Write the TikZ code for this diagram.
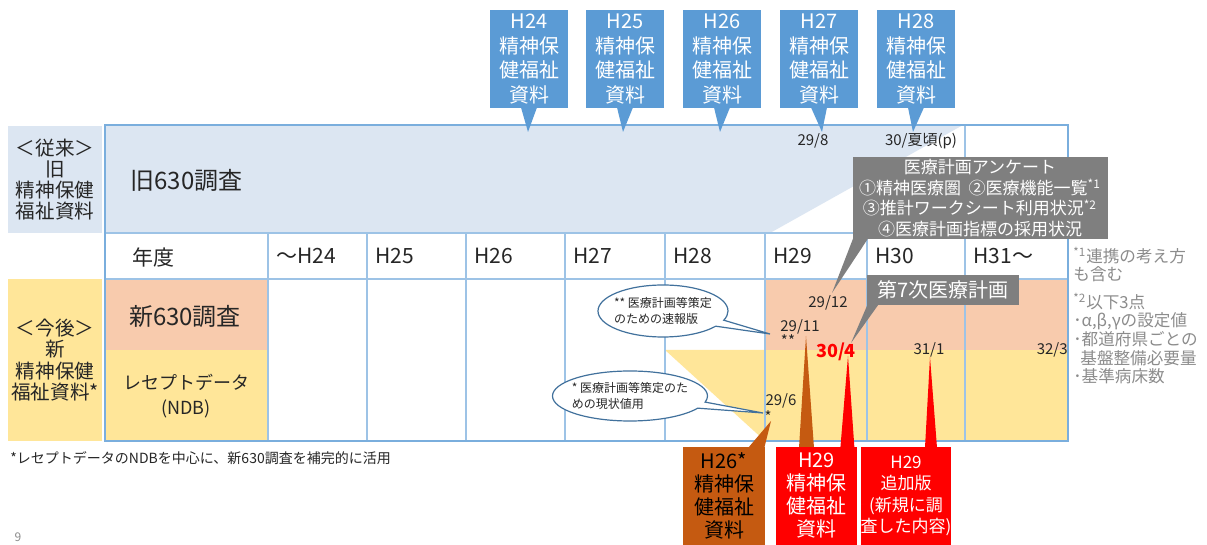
\documentclass[tikz,border=0pt]{standalone}
\usepackage{fontspec}
\setmainfont{Noto Sans CJK JP}
\usetikzlibrary{calc, shapes.callouts}

\newcommand{\fsz}[2]{\fontsize{#1}{#2}\selectfont}

\definecolor{oldblue}{HTML}{DCE6F2}
\definecolor{gridblue}{HTML}{9DC3E6}
\definecolor{frameblue}{HTML}{7AAEDD}
\definecolor{callblue}{HTML}{5B9BD5}
\definecolor{salmon}{HTML}{F8CBAD}
\definecolor{ndbyellow}{HTML}{FFE699}
\definecolor{callgray}{HTML}{7F7F7F}
\definecolor{notegray}{HTML}{8C8C8C}
\definecolor{brownc}{HTML}{C55A11}
\definecolor{textdark}{HTML}{262626}
\definecolor{bubbleline}{HTML}{41719C}

\begin{document}
\begin{tikzpicture}[x=0.5pt, y=-0.5pt,
    every node/.style={inner sep=0pt, text=textdark},
    gridline/.style={draw=gridblue, line width=0.6pt},
    frameline/.style={draw=frameblue, line width=0.8pt},
    sidelbl/.style={minimum width=47pt, align=center, font=\fsz{9.8}{10.6}},
    celltxt/.style={anchor=west, font=\fsz{10.5}{12}},
    datelbl/.style={font=\fsz{7.5}{8}},
    bluecall/.style={fill=callblue, text=white, minimum width=39pt, minimum height=49pt,
                     align=center, font=\fsz{10}{12.25}},
    graycall/.style={fill=callgray, text=white, align=center},
    bubble/.style={ellipse callout, draw=bubbleline, fill=white, line width=0.6pt},
    bubtxt/.style={align=left, font=\fsz{6}{8}},
    botcall/.style={minimum height=49pt, align=center, font=\fsz{10}{11.5}},
    note/.style={anchor=north west, align=left, text=notegray, font=\fsz{8.3}{9.3}}
  ]

  \path[use as bounding box, fill=white] (0,0) rectangle (1207,545);

  % Beschriftung links
  \node[sidelbl, fill=oldblue, minimum height=53.5pt] (oldlbl) at (55,179.5)
    {＜従来＞\\旧\\精神保健\\福祉資料};
  \node[sidelbl, fill=ndbyellow, minimum height=81pt] (newlbl) at (55,360)
    {＜今後＞\\新\\精神保健\\福祉資料*};

  % Flaechen
  \fill[oldblue] (105,125) -- (963,125) -- (770,233) -- (105,233) -- cycle;
  \fill[salmon] (105,279) rectangle (268,350);
  \fill[ndbyellow] (105,350) rectangle (268,441);
  \fill[salmon] (765,279) rectangle (1068,350);
  \fill[ndbyellow] (765,350) rectangle (1068,441);
  \fill[ndbyellow] (665,350) -- (765,350) -- (765,441) -- cycle;

  % Gitter
  \draw[gridline] (105,233) -- (1068,233);
  \draw[gridline] (105,279) -- (1068,279);
  \foreach \x in {268,367,466,565,665,765,867}
    \draw[gridline] (\x,233) -- (\x,441);
  \draw[gridline] (965,125) -- (965,441);
  \draw[frameline] (105,125) rectangle (1068,441);

  % Zeilenkoepfe
  \node[celltxt, font=\fsz{12}{14}] (old630) at (130,180) {旧630調査};
  \node[celltxt] (nendo) at (132,258) {年度};
  \node[font=\fsz{12}{14}] (new630) at (185,316) {新630調査};
  \node[align=center, font=\fsz{9}{12.5}] (ndb) at (186,396) {レセプトデータ\\(NDB)};

  % Jahre
  \foreach \x/\t [count=\i] in {268/～H24, 367/H25, 466/H26, 565/H27,
                                 665/H28, 765/H29, 867/H30, 965/H31～}
    \node[celltxt] (yr\i) at (\x+8,256) {\t};

  % Datumsangaben
  \node[datelbl] (d298) at (813,141) {29/8};
  \node[datelbl] (d30s) at (921,141) {30/夏頃(p)};
  \node[datelbl] (d2912) at (828,303) {29/12};
  \node[datelbl] (d2911) at (800,327) {29/11};
  \node[datelbl] (dstar2) at (788,341) {**};
  \node[datelbl, text=red, font=\bfseries\fsz{9}{10}] (d304) at (836,352) {30/4};
  \node[datelbl] (d311) at (929,350) {31/1};
  \node[datelbl, anchor=east] (d323) at (1068,350) {32/3};
  \node[datelbl] (d296) at (781,401) {29/6};
  \node[datelbl] (dstar1) at (768,417) {*};

  % Sprechblasen
  \coordinate (bubAtip) at (770,334);
  \node[bubble, minimum width=65pt, minimum height=26pt,
        callout absolute pointer={(bubAtip)}] (bubA) at (663,311) {};
  \node[bubtxt] (bubAtxt) at (bubA) {** 医療計画等策定\\のための速報版};

  \coordinate (bubBtip) at (763,413);
  \node[bubble, minimum width=77.5pt, minimum height=25pt,
        callout absolute pointer={(bubBtip)}] (bubB) at (630,396) {};
  \node[bubtxt] (bubBtxt) at (bubB) {* 医療計画等策定のた\\めの現状値用};

  % alte Erhebungen oben
  \foreach \cx/\tx/\yr [count=\i] in {529/528/H24, 625/623/H25, 722/720/H26,
                                       819/822/H27, 916/913/H28} {
    \node[bluecall] (old\i) at (\cx,59) {\yr\\精神保\\健福祉\\資料};
    \coordinate (oldtip\i) at (\tx,132);
    \fill[callblue] ($(old\i.south)+(-8,-1)$) -- (oldtip\i) -- ($(old\i.south)+(8,-1)$) -- cycle;
  }

  % Anmerkungen grau
  \node[graycall, minimum width=127.5pt, minimum height=41pt, font=\fsz{8.5}{10.25}] (survey)
    at (980,198) {医療計画アンケート\\
      ①精神医療圏\ \ ②医療機能一覧\textsuperscript{*1}\\
      ③推計ワークシート利用状況\textsuperscript{*2}\\
      ④医療計画指標の採用状況};
  \coordinate (surveytip) at (832,293);
  \fill[callgray] ($(survey.south west)+(1,-1)$) -- (surveytip)
    -- ($(survey.south west)+(16,-1)$) -- cycle;

  \node[graycall, minimum width=76pt, minimum height=15pt, font=\fsz{10}{12}] (plan7)
    at (943,290) {第7次医療計画};
  \coordinate (plan7tip) at (851,343);
  \fill[callgray] ($(plan7.south west)+(1,-1)$) -- (plan7tip)
    -- ($(plan7.south west)+(12,-1)$) -- cycle;

  % neue Erhebungen unten
  \node[botcall, fill=brownc, text=black, minimum width=41pt] (h26b) at (724,496)
    {H26*\\精神保\\健福祉\\資料};
  \coordinate (h26tip) at (771,421);
  \fill[brownc] ($(h26b.north east)+(-17,1)$) -- (h26tip) -- ($(h26b.north east)+(-1,1)$) -- cycle;

  \coordinate (spikebase) at (806,448);
  \coordinate (spiketip) at (806,336);
  \fill[brownc] ($(spikebase)+(-7,0)$) -- (spiketip) -- ($(spikebase)+(8,0)$) -- cycle;

  \node[botcall, fill=red, text=white, minimum width=40.5pt] (h29r) at (816.5,496)
    {H29\\精神保\\健福祉\\資料};
  \coordinate (h29tip) at (848,356);
  \fill[red] ($(h29r.north east)+(-17,1)$) -- (h29tip) -- ($(h29r.north east)+(-3,1)$) -- cycle;

  \node[botcall, fill=red, text=white, minimum width=44pt, font=\fsz{8.5}{10.75}] (h29add)
    at (906,496) {H29\\追加版\\(新規に調\\査した内容)};
  \coordinate (h29addtip) at (930,357);
  \fill[red] ($(h29add.north)+(19,1)$) -- (h29addtip) -- ($(h29add.north)+(31,1)$) -- cycle;

  % Fussnoten
  \node[note] (note1) at (1073,247) {\textsuperscript{*1}連携の考え方\\も含む};
  \node[note] (note2) at (1073,293) {\textsuperscript{*2}以下3点\\
    ･α,β,γの設定値\\･都道府県ごとの\\\hspace{3.5pt}基盤整備必要量\\･基準病床数};
  \node[anchor=west, font=\fsz{7}{8}] (foot) at (10,458)
    {*レセプトデータのNDBを中心に、新630調査を補完的に活用};
  \node[font=\fsz{6}{7}, text=notegray] (pgno) at (18,537) {9};

\end{tikzpicture}
\end{document}
